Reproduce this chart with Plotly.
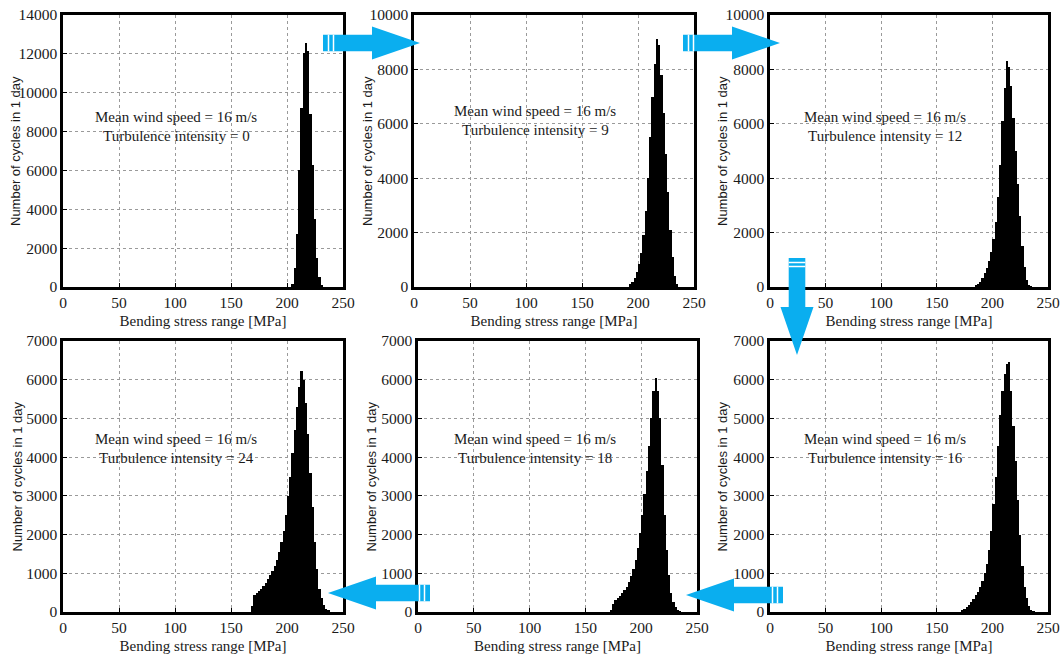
import plotly.graph_objects as go

W, H = 1062, 658

# ---------------- data ----------------
bin_width = 2.0  # MPa

ti_labels = ["0", "9", "12", "24", "18", "16"]

p1_start = 205
p1_counts = [150, 1000, 2750, 6000, 9200, 12050, 12580, 12150, 8900, 6300, 3500, 1500, 500, 120]

p2_start = 193
p2_counts = [120, 200, 320, 550, 850, 1250, 1900, 2800, 4000, 5500, 7000, 8200, 9100,
             8900, 7800, 6400, 4900, 3500, 2100, 1100, 400, 100]

p3_start = 185
p3_counts = [40, 120, 200, 330, 500, 700, 950, 1300, 1750, 2400, 3300, 4500, 6100, 7300,
             8300, 8100, 7400, 6200, 5000, 3800, 2600, 1500, 750, 250, 60, 20]

p4_start = 169
p4_counts = [150, 450, 500, 550, 600, 680, 750, 850, 950, 1050, 1200, 1350, 1550, 1800,
             2100, 2500, 3000, 3500, 4100, 4700, 5300, 5800, 6230, 6000, 5400, 4600, 3600,
             2700, 1800, 1100, 600, 350, 180, 80, 30]

p5_start = 173
p5_counts = [60, 200, 300, 350, 420, 500, 560, 650, 780, 920, 1100, 1350, 1650, 2050, 2500,
             3050, 3650, 4300, 5000, 5700, 6050, 5700, 5000, 3800, 2500, 1600, 950, 500,
             250, 120, 60, 20]

p6_start = 173
p6_counts = [30, 80, 120, 180, 260, 340, 430, 520, 650, 800, 1000, 1250, 1600, 2100, 2800,
             3500, 4300, 5100, 5700, 6150, 6400, 6450, 5700, 4800, 3900, 2900, 2000, 1200,
             650, 350, 150, 60, 20]

y_max = [14000, 10000, 10000, 7000, 7000, 7000]
y_dtick = [2000, 2000, 2000, 1000, 1000, 1000]
x_ticks = [0, 50, 100, 150, 200, 250]

panels = [
    (p1_start, p1_counts),
    (p2_start, p2_counts),
    (p3_start, p3_counts),
    (p4_start, p4_counts),
    (p5_start, p5_counts),
    (p6_start, p6_counts),
]

# ---------------- layout geometry (pixels) ----------------
boxes = [  # x0, x1, ytop, ybottom
    (63, 343, 15, 287),
    (414, 694, 15, 287),
    (770, 1048, 15, 287),
    (63, 343, 341, 612),
    (418, 697, 341, 612),
    (770, 1048, 341, 612),
]
text_pos = [(176, 117), (535, 111), (885, 117), (176, 439), (535, 439), (885, 439)]
ytitle_x = [15, 367, 722, 17, 371, 722]


def px(x):
    return x / W


def py(y):
    return 1 - y / H


SERIF = "Liberation Serif, Times New Roman, serif"
SANS = "Liberation Sans, Arial, sans-serif"
BLUE = "#0AAEEF"
INK = "#1a1a1a"

fig = go.Figure()
layout = dict(
    template="none",
    width=W, height=H,
    margin=dict(l=0, r=0, t=0, b=0, pad=0),
    paper_bgcolor="white", plot_bgcolor="white",
    showlegend=False, bargap=0,
    font=dict(family=SERIF, size=15, color=INK),
)

annotations = []
shapes = []

for i, ((start, counts), (x0, x1, yt, yb)) in enumerate(zip(panels, boxes)):
    n = i + 1
    xa = "x" if n == 1 else f"x{n}"
    ya = "y" if n == 1 else f"y{n}"
    centers = [start + bin_width * k for k in range(len(counts))]
    fig.add_trace(go.Bar(
        x=centers, y=counts, width=bin_width,
        marker=dict(color="black", line=dict(width=0)),
        xaxis=xa, yaxis=ya, hoverinfo="x+y",
    ))
    common = dict(
        automargin=False,
        showline=True, linecolor="black", linewidth=2.5, mirror=True,
        showgrid=True, gridcolor="#9a9a9a", griddash="dot", gridwidth=1,
        ticks="inside", ticklen=4, tickcolor="black", tickwidth=1,
        zeroline=False, tickformat="d",
        tickfont=dict(family=SERIF, size=15.5, color=INK),
    )
    layout["xaxis" if n == 1 else f"xaxis{n}"] = dict(
        common, domain=[px(x0), px(x1)], anchor=ya,
        range=[0, 250], tickvals=x_ticks,
        title=dict(text="Bending stress range [MPa]", standoff=6,
                   font=dict(family=SERIF, size=15, color=INK)),
    )
    layout["yaxis" if n == 1 else f"yaxis{n}"] = dict(
        common, domain=[py(yb), py(yt)], anchor=xa,
        range=[0, y_max[i]], dtick=y_dtick[i], tick0=0,
    )
    annotations.append(dict(
        x=px(ytitle_x[i]), y=py((yt + yb) / 2), xref="paper", yref="paper",
        text="Number of cycles in 1 day", showarrow=False, textangle=-90,
        xanchor="center", yanchor="middle",
        font=dict(family=SANS, size=13, color=INK),
    ))
    tx, ty = text_pos[i]
    annotations.append(dict(
        x=px(tx), y=py(ty), xref="paper", yref="paper",
        text="Mean wind speed = 16 m/s", showarrow=False,
        xanchor="center", yanchor="middle",
        font=dict(family=SERIF, size=15, color=INK),
    ))
    annotations.append(dict(
        x=px(tx), y=py(ty + 19), xref="paper", yref="paper",
        text=f"Turbulence intensity = {ti_labels[i]}", showarrow=False,
        xanchor="center", yanchor="middle",
        font=dict(family=SERIF, size=15, color=INK),
    ))


# ---------------- block arrows ----------------
def path(points):
    d = "M " + " L ".join(f"{px(x):.5f},{py(y):.5f}" for x, y in points) + " Z"
    return d


def h_arrow(tail, tip, yc, direction):
    # direction +1: pointing right, -1: pointing left
    head = 48
    sh = 8.3
    hh = 16.5
    base = tip - direction * head
    pts = [(tail, yc - sh), (base, yc - sh), (base, yc - hh), (tip, yc),
           (base, yc + hh), (base, yc + sh), (tail, yc + sh)]
    shapes.append(dict(type="path", path=path(pts), xref="paper", yref="paper",
                       fillcolor=BLUE, line=dict(width=0), layer="above"))
    for off in (5.5, 10.5):
        xs = tail + direction * off
        shapes.append(dict(type="line", xref="paper", yref="paper",
                           x0=px(xs), x1=px(xs), y0=py(yc - sh), y1=py(yc + sh),
                           line=dict(color="white", width=1.5), layer="above"))


def v_arrow(xc, tail, tip):
    head = 48
    sw = 8.3
    hw = 16.5
    base = tip - head
    pts = [(xc - sw, tail), (xc - sw, base), (xc - hw, base), (xc, tip),
           (xc + hw, base), (xc + sw, base), (xc + sw, tail)]
    shapes.append(dict(type="path", path=path(pts), xref="paper", yref="paper",
                       fillcolor=BLUE, line=dict(width=0), layer="above"))
    for off in (4.5, 8.5):
        ys = tail + off
        shapes.append(dict(type="line", xref="paper", yref="paper",
                           x0=px(xc - sw), x1=px(xc + sw), y0=py(ys), y1=py(ys),
                           line=dict(color="white", width=1.5), layer="above"))


h_arrow(323, 420, 43, +1)
h_arrow(683, 780, 43, +1)
v_arrow(797, 258, 355)
h_arrow(783, 686, 595, -1)
h_arrow(430, 328, 593, -1)

layout["annotations"] = annotations
layout["shapes"] = shapes
fig.update_layout(**layout)

fig.write_html("out.html",
               config={"displayModeBar": False},
               post_script="document.body.style.margin='0px';document.body.style.overflow='hidden';")
